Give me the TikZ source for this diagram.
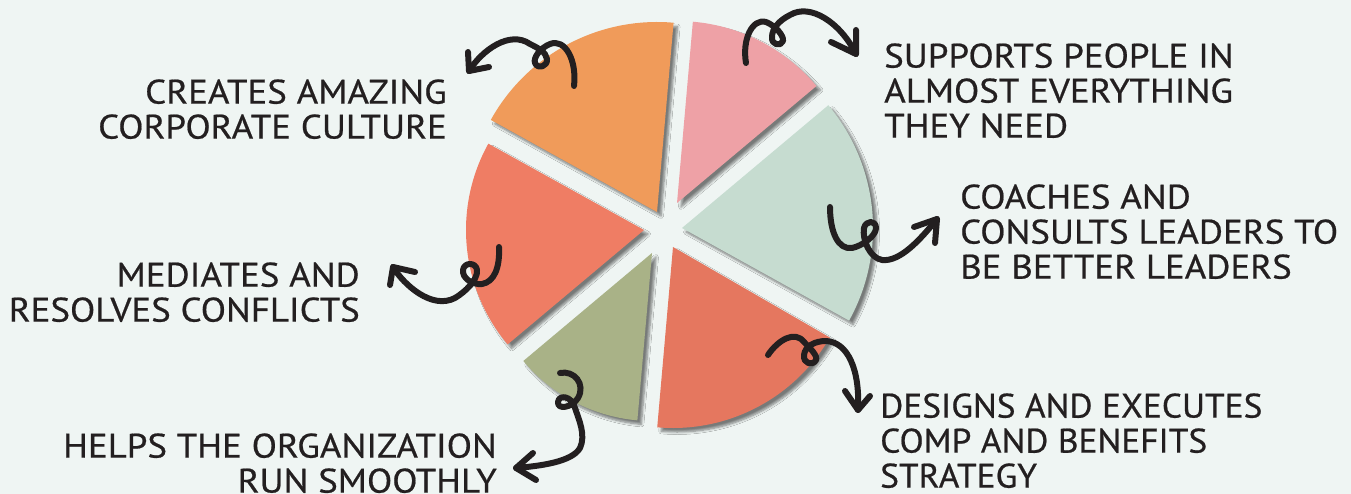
\documentclass[tikz,border=0pt]{standalone}
\usepackage{fontspec}
\setmainfont[FakeStretch=1.085, FakeBold=0.6]{PT Sans}
\newfontfamily\condfont[FakeStretch=1.04, FakeBold=0.6]{PT Sans}
\usetikzlibrary{shadows.blur}
\definecolor{bg}{HTML}{EFF5F3}
\definecolor{ink}{HTML}{231F20}
\definecolor{cOrange}{HTML}{F09B5A}
\definecolor{cPink}{HTML}{EEA1A6}
\definecolor{cGreen}{HTML}{C6DCD0}
\definecolor{cRedB}{HTML}{E5775F}
\definecolor{cOlive}{HTML}{A9B287}
\definecolor{cRedL}{HTML}{EF7D64}
\tikzset{
  lbl/.style={font=\fontsize{34}{35}\selectfont, text=ink, inner sep=0pt},
  curly/.style={draw=ink, line width=6pt, line cap=round, line join=round},
  shad/.style={blur shadow={shadow xshift=4pt, shadow yshift=-4pt, shadow blur radius=2.5pt, shadow blur steps=6, shadow opacity=50}},
}
\begin{document}
\begin{tikzpicture}[x=1pt,y=-1pt]
\fill[bg] (0,0) rectangle (1351,494);
\useasboundingbox (0,0) rectangle (1351,494);

% apexes of the exploded pie
\coordinate (pO) at (657,212);
\coordinate (pP) at (677,203);
\coordinate (pG) at (682,228);
\coordinate (pR) at (673,247);
\coordinate (pV) at (652,253);
\coordinate (pL) at (644,230);

% shadows first
\path[shad] (pO) -- ++(-85:190) arc[start angle=-85, end angle=-151, radius=190] -- cycle;
\path[shad] (pP) -- ++(-40:182) arc[start angle=-40, end angle=-85, radius=182] -- cycle;
\path[shad] (pG) -- ++(29:191) arc[start angle=29, end angle=-40, radius=191] -- cycle;
\path[shad] (pR) -- ++(95:181) arc[start angle=95, end angle=30, radius=181] -- cycle;
\path[shad] (pV) -- ++(-220:168) arc[start angle=-220, end angle=-265, radius=168] -- cycle;
\path[shad] (pL) -- ++(-151:178) arc[start angle=-151, end angle=-220, radius=178] -- cycle;

% wedges
\fill[cOrange] (pO) -- ++(-85:190) arc[start angle=-85, end angle=-151, radius=190] -- cycle;
\fill[cPink] (pP) -- ++(-40:182) arc[start angle=-40, end angle=-85, radius=182] -- cycle;
\fill[cGreen] (pG) -- ++(29:191) arc[start angle=29, end angle=-40, radius=191] -- cycle;
\fill[cRedB] (pR) -- ++(95:181) arc[start angle=95, end angle=30, radius=181] -- cycle;
\fill[cOlive] (pV) -- ++(-220:168) arc[start angle=-220, end angle=-265, radius=168] -- cycle;
\fill[cRedL] (pL) -- ++(-151:178) arc[start angle=-151, end angle=-220, radius=178] -- cycle;

% labels
\node[lbl, anchor=north east, align=right] (tA) at (447,79.2) {CREATES AMAZING\\CORPORATE CULTURE};
\node[lbl, anchor=north west, align=left] (tB) at (884,43.2) {SUPPORTS PEOPLE IN\\ALMOST EVERYTHING\\THEY NEED};
\node[lbl, anchor=north west, align=left] (tC) at (960,184.2) {COACHES AND\\CONSULTS LEADERS TO\\BE BETTER LEADERS};
\node[lbl, anchor=north east, align=right] (tD) at (360,262.2) {MEDIATES AND\\RESOLVES CONFLICTS};
\node[lbl, anchor=north east, align=right] (tE) at (497,433.2) {HELPS THE ORGANIZATION\\RUN SMOOTHLY};
\node[lbl, anchor=north west, align=left, font=\condfont\fontsize{34}{35}\selectfont] (tF) at (880,393.2) {DESIGNS AND EXECUTES\\COMP AND BENEFITS\\STRATEGY};

% arrow 1 (orange -> top-left label)
\coordinate (a1s) at (574,86);
\coordinate (a1t) at (469,71);
\draw[curly] (a1s) .. controls (577,60) and (565,38) .. (550,44)
  .. controls (540,48) and (533,58) .. (535,63)
  .. controls (538,70) and (548,66) .. (547,59)
  .. controls (546,52) and (538,48) .. (530,44)
  .. controls (510,30) and (482,50) .. (a1t);
\draw[curly] (468,52) -- (a1t) -- (489,67);

% arrow 2 (pink -> top-right label)
\coordinate (a2s) at (746,63);
\coordinate (a2t) at (856,54);
\draw[curly] (a2s) .. controls (742,40) and (752,18) .. (766,22)
  .. controls (776,26) and (784,36) .. (783,41)
  .. controls (781,47) and (771,45) .. (772,37)
  .. controls (772,28) and (780,20) .. (790,15)
  .. controls (810,3) and (840,22) .. (a2t);
\draw[curly] (856,30) -- (a2t) -- (831,42);

% arrow 3 (green -> right label)
\coordinate (a3s) at (830,207);
\coordinate (a3t) at (937,219);
\draw[curly] (a3s) .. controls (830,232) and (838,250) .. (852,248)
  .. controls (862,246) and (876,236) .. (876,228)
  .. controls (876,220) and (866,220) .. (864,228)
  .. controls (862,240) and (870,258) .. (882,260)
  .. controls (900,262) and (920,240) .. (a3t);
\draw[curly] (914,227) -- (a3t) -- (935,243);

% arrow 4 (left red -> left label)
\coordinate (a4s) at (499,247);
\coordinate (a4t) at (393,267);
\draw[curly] (a4s) .. controls (500,268) and (494,282) .. (482,284)
  .. controls (472,285) and (462,278) .. (463,270)
  .. controls (464,262) and (476,262) .. (477,270)
  .. controls (478,280) and (465,292) .. (455,298)
  .. controls (432,310) and (404,285) .. (a4t);
\draw[curly] (415,272) -- (a4t) -- (390,285);

% arrow 5 (olive -> bottom-left label)
\coordinate (a5s) at (560,373);
\coordinate (a5t) at (516,468);
\draw[curly] (a5s) .. controls (574,370) and (586,384) .. (578,398)
  .. controls (572,408) and (557,410) .. (558,402)
  .. controls (559,394) and (572,396) .. (575,408)
  .. controls (579,420) and (586,435) .. (580,448)
  .. controls (572,462) and (540,466) .. (a5t);
\draw[curly] (533,453) -- (a5t) -- (536,480);

% arrow 6 (bottom red -> bottom-right label)
\coordinate (a6s) at (768,355);
\coordinate (a6t) at (858,410);
\draw[curly] (a6s) .. controls (778,340) and (795,330) .. (804,342)
  .. controls (810,348) and (818,356) .. (816,360)
  .. controls (813,366) and (803,364) .. (804,355)
  .. controls (805,346) and (815,341) .. (826,341)
  .. controls (848,342) and (860,370) .. (a6t);
\draw[curly] (845,391) -- (a6t) -- (870,396);
\end{tikzpicture}
\end{document}
